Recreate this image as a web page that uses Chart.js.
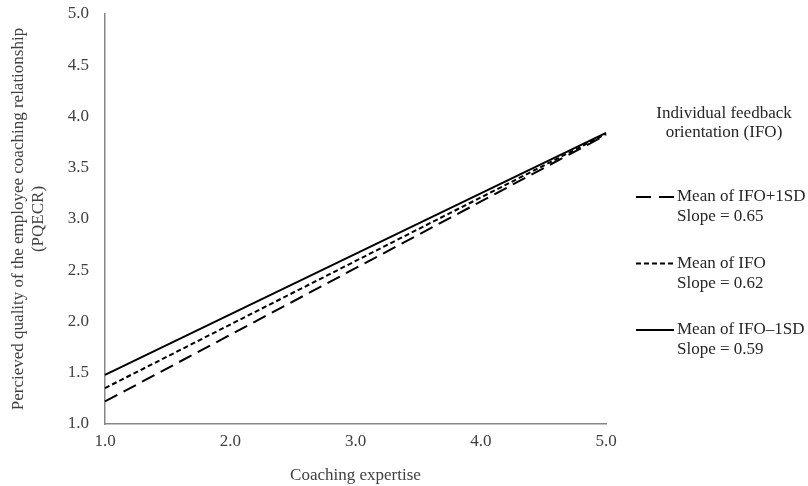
<!DOCTYPE html>
<html>
<head>
<meta charset="utf-8">
<script src="https://cdn.jsdelivr.net/npm/chart.js@4.4.0/dist/chart.umd.min.js"></script>
<style>
  body { margin: 0; background: #fff; }
  #wrap { width: 808px; height: 486px; position: relative; }
</style>
</head>
<body>
<div id="wrap"><canvas id="chart"></canvas></div>
<script>
// valores
const xValues = [1.0, 5.0];
const plusSD = [1.22, 3.82];
const meanIFO = [1.35, 3.83];
const minusSD = [1.48, 3.84];
const seriesNames = ['Mean of IFO+1SD', 'Mean of IFO', 'Mean of IFO\u20131SD'];
const slopeLabels = ['Slope = 0.65', 'Slope = 0.62', 'Slope = 0.59'];
const legendTitle = ['Individual feedback', 'orientation (IFO)'];
const xTitle = 'Coaching expertise';
const yTitle = ['Percieved quality of the employee coaching relationship', '(PQECR)'];

const fontFamily = "'Liberation Serif', 'Times New Roman', serif";
const dashes = [[14, 7], [5, 3], []];
const legendDashes = [[15, 8], [5, 3], []];

function toPoints(ys) {
  return xValues.map((x, i) => ({ x: x, y: ys[i] }));
}

const series = [plusSD, meanIFO, minusSD];

// legenda desenhada à direita
const sideLegend = {
  id: 'sideLegend',
  afterDraw(chart) {
    const ctx = chart.ctx;
    ctx.save();
    ctx.font = '17px ' + fontFamily;
    ctx.fillStyle = '#262626';
    ctx.textBaseline = 'middle';
    ctx.textAlign = 'center';
    ctx.fillText(legendTitle[0], 724, 114);
    ctx.fillText(legendTitle[1], 724, 133);
    ctx.textAlign = 'left';
    for (let i = 0; i < seriesNames.length; i++) {
      const y = 197 + i * 66.5;
      ctx.strokeStyle = '#000';
      ctx.lineWidth = 2;
      ctx.setLineDash(legendDashes[i]);
      ctx.beginPath();
      ctx.moveTo(636, y);
      ctx.lineTo(674, y);
      ctx.stroke();
      ctx.setLineDash([]);
      ctx.fillText(seriesNames[i], 677, y);
      ctx.fillText(slopeLabels[i], 677, y + 20);
    }
    ctx.restore();
  }
};

Chart.defaults.font.family = fontFamily;
Chart.defaults.font.size = 17;
Chart.defaults.color = '#404040';

const chart = new Chart(document.getElementById('chart'), {
  type: 'line',
  data: {
    datasets: series.map((ys, i) => ({
      label: seriesNames[i],
      data: toPoints(ys),
      borderColor: '#000',
      borderWidth: 2,
      borderDash: dashes[i],
      pointRadius: 0,
      fill: false,
      clip: false
    }))
  },
  options: {
    responsive: true,
    maintainAspectRatio: false,
    animation: false,
    layout: { padding: { top: 14, right: 202, left: 0, bottom: 0 } },
    plugins: {
      legend: { display: false },
      tooltip: { enabled: false }
    },
    scales: {
      x: {
        type: 'linear',
        min: 1,
        max: 5,
        grid: { display: false, drawTicks: false },
        border: { color: '#868686', width: 1.5 },
        ticks: {
          stepSize: 1,
          padding: 7,
          callback: v => v.toFixed(1)
        },
        title: { display: true, text: xTitle, padding: { top: 4, bottom: 0 } },
        afterFit(scale) {
          scale.height = 62;
          scale.paddingLeft = 0;
          scale.paddingRight = 0;
        }
      },
      y: {
        min: 1,
        max: 5,
        grid: { display: false, drawTicks: false },
        border: { color: '#868686', width: 1.5 },
        ticks: {
          stepSize: 0.5,
          padding: 16,
          callback: v => v.toFixed(1)
        },
        title: {
          display: true,
          text: yTitle,
          font: { size: 17, lineHeight: 1.2 },
          padding: { top: 8, bottom: 4 }
        },
        afterFit(scale) {
          scale.width = 105;
          scale.paddingTop = 0;
          scale.paddingBottom = 0;
        }
      }
    }
  },
  plugins: [sideLegend]
});
</script>
</body>
</html>
